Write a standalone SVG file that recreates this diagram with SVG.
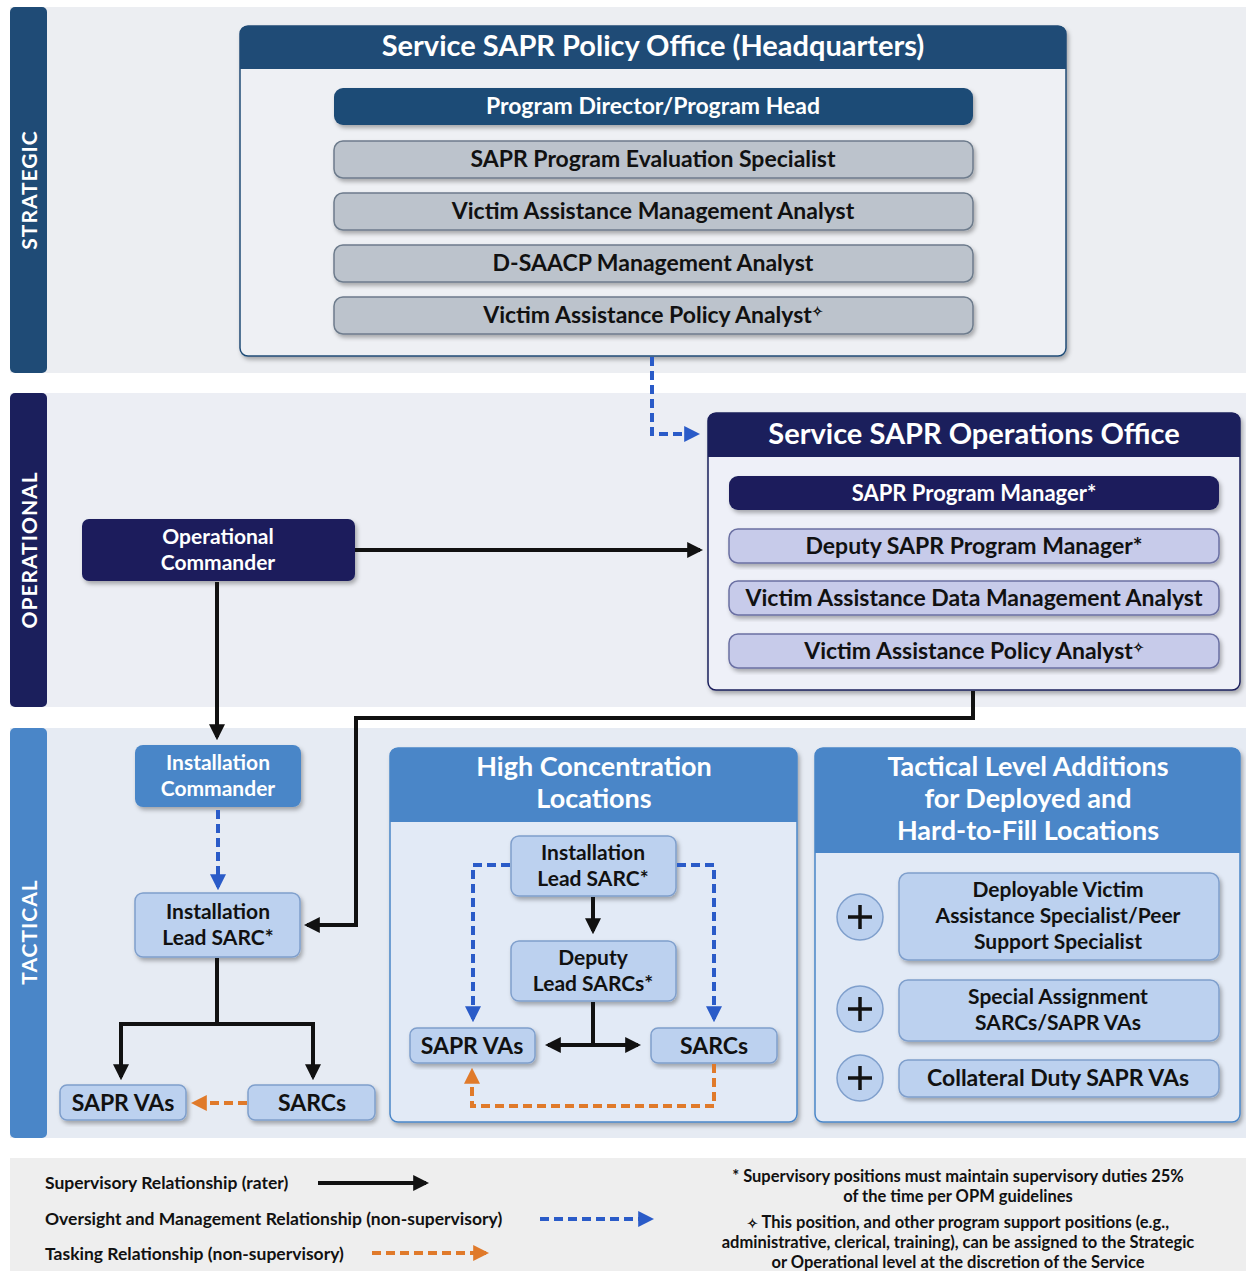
<svg xmlns="http://www.w3.org/2000/svg" width="1246" height="1271" viewBox="0 0 1246 1271">
<defs>
<style>
text{font-family:Lato,"Open Sans","Liberation Sans",sans-serif;font-weight:bold;text-anchor:middle}
.w{fill:#ffffff}
.d{fill:#111111}
.lab{fill:#ffffff;font-size:21px;letter-spacing:1px}
.grey{fill:#bcc3cc;stroke:#6d7b8c;stroke-width:1.5}
.lav{fill:#c7cbea;stroke:#6b70a3;stroke-width:1.5}
.lb{fill:#bcd1ef;stroke:#7f9fcc;stroke-width:1.5}
.sup{fill:none;stroke:#111;stroke-width:4}
.ovs{fill:none;stroke:#2a5bc8;stroke-width:4;stroke-dasharray:9 5}
.tsk{fill:none;stroke:#e07a2a;stroke-width:4;stroke-dasharray:9 5}
.leg{font-size:17.5px;text-anchor:start;fill:#111}
.note{font-size:16.5px;fill:#111}
.st{font-size:13px}
.h2{font-size:27px}
.n2{font-size:21px}
</style>
<filter id="sh" x="-5%" y="-10%" width="110%" height="130%"><feDropShadow dx="2" dy="3" stdDeviation="2" flood-color="#000" flood-opacity="0.3"/></filter>
<marker id="ak" viewBox="0 0 10 10" refX="8" refY="5" markerWidth="4" markerHeight="4" orient="auto-start-reverse"><path d="M0,0 L10,5 L0,10 z" fill="#111"/></marker>
<marker id="ab" viewBox="0 0 10 10" refX="8" refY="5" markerWidth="4" markerHeight="4" orient="auto"><path d="M0,0 L10,5 L0,10 z" fill="#2a5bc8"/></marker>
<marker id="ao" viewBox="0 0 10 10" refX="8" refY="5" markerWidth="4" markerHeight="4" orient="auto"><path d="M0,0 L10,5 L0,10 z" fill="#e07a2a"/></marker>
</defs>
<rect x="0" y="0" width="1246" height="1271" fill="#ffffff"/>
<!-- bands -->
<rect x="10" y="7" width="1236" height="366" fill="#eceef2"/>
<rect x="10" y="393" width="1236" height="314" fill="#eceef4"/>
<rect x="10" y="728" width="1236" height="410" fill="#e6ebf3"/>
<rect x="10" y="1158" width="1236" height="113" fill="#eeeeee"/>
<rect x="10" y="7" width="37" height="366" rx="5" fill="#1f4b76"/>
<rect x="10" y="393" width="37" height="314" rx="5" fill="#1b1f5c"/>
<rect x="10" y="728" width="37" height="410" rx="5" fill="#4a86c8"/>
<text class="lab" transform="translate(37,190) rotate(-90)">STRATEGIC</text>
<text class="lab" transform="translate(37,550) rotate(-90)">OPERATIONAL</text>
<text class="lab" transform="translate(37,932) rotate(-90)">TACTICAL</text>

<!-- policy office -->
<g id="policy-office">
<rect x="240" y="26" width="826" height="330" rx="8" fill="#eef0f4" stroke="#1f4b76" stroke-width="1.5" filter="url(#sh)"/>
<path d="M240,69 V34 Q240,26 248,26 H1058 Q1066,26 1066,34 V69 Z" fill="#1f4b76"/>
<text class="w" x="653" y="56" font-size="29">Service SAPR Policy Office (Headquarters)</text>
</g>
<g id="program-director"><rect x="334" y="88" width="639" height="37" rx="9" fill="#1f4b76" filter="url(#sh)"/><text class="w" x="653" y="114" font-size="23">Program Director/Program Head</text></g>
<g id="eval-specialist"><rect class="grey" x="334" y="141" width="639" height="37" rx="9" filter="url(#sh)"/><text class="d" x="653" y="167" font-size="23">SAPR Program Evaluation Specialist</text></g>
<g id="vam-analyst"><rect class="grey" x="334" y="193" width="639" height="37" rx="9" filter="url(#sh)"/><text class="d" x="653" y="219" font-size="23">Victim Assistance Management Analyst</text></g>
<g id="dsaacp-analyst"><rect class="grey" x="334" y="245" width="639" height="37" rx="9" filter="url(#sh)"/><text class="d" x="653" y="271" font-size="23">D-SAACP Management Analyst</text></g>
<g id="vap-analyst-s"><rect class="grey" x="334" y="297" width="639" height="37" rx="9" filter="url(#sh)"/><text class="d" x="653" y="323" font-size="23">Victim Assistance Policy Analyst<tspan class="st" dy="-7">✧</tspan></text></g>

<!-- operations office -->
<g id="operations-office">
<rect x="708" y="413" width="532" height="277" rx="8" fill="#eef0f8" stroke="#1b1f5c" stroke-width="1.5" filter="url(#sh)"/>
<path d="M708,457 V421 Q708,413 716,413 H1232 Q1240,413 1240,421 V457 Z" fill="#1b1f5c"/>
<text class="w" x="974" y="444" font-size="29">Service SAPR Operations Office</text>
</g>
<g id="program-manager"><rect x="729" y="476" width="490" height="34" rx="9" fill="#1b1f5c" filter="url(#sh)"/><text class="w" x="974" y="501" font-size="22">SAPR Program Manager*</text></g>
<g id="deputy-pm"><rect class="lav" x="729" y="529" width="490" height="34" rx="9" filter="url(#sh)"/><text class="d" x="974" y="554" font-size="23">Deputy SAPR Program Manager*</text></g>
<g id="vadm-analyst"><rect class="lav" x="729" y="581" width="490" height="34" rx="9" filter="url(#sh)"/><text class="d" x="974" y="606" font-size="23">Victim Assistance Data Management Analyst</text></g>
<g id="vap-analyst-o"><rect class="lav" x="729" y="634" width="490" height="34" rx="9" filter="url(#sh)"/><text class="d" x="974" y="659" font-size="23">Victim Assistance Policy Analyst<tspan class="st" dy="-7">✧</tspan></text></g>

<!-- operational commander -->
<g id="operational-commander"><rect x="82" y="519" width="273" height="62" rx="7" fill="#1b1f5c" filter="url(#sh)"/><text class="w n2" x="218" y="544">Operational</text><text class="w n2" x="218" y="570">Commander</text></g>

<!-- tactical left -->
<g id="installation-commander"><rect x="135" y="745" width="166" height="62" rx="8" fill="#4a86c8" filter="url(#sh)"/><text class="w n2" x="218" y="770">Installation</text><text class="w n2" x="218" y="796">Commander</text></g>
<g id="installation-lead-sarc"><rect class="lb" x="135" y="893" width="165" height="64" rx="8" filter="url(#sh)"/><text class="d n2" x="218" y="919">Installation</text><text class="d n2" x="218" y="945">Lead SARC*</text></g>
<g id="sapr-vas"><rect class="lb" x="60" y="1085" width="126" height="35" rx="7" filter="url(#sh)"/><text class="d" x="123" y="1111" font-size="23">SAPR VAs</text></g>
<g id="sarcs"><rect class="lb" x="248" y="1085" width="127" height="35" rx="7" filter="url(#sh)"/><text class="d" x="312" y="1111" font-size="23">SARCs</text></g>

<!-- high concentration -->
<g id="high-concentration">
<rect x="390" y="748" width="407" height="374" rx="8" fill="#e2eaf6" stroke="#4a86c8" stroke-width="1.5" filter="url(#sh)"/>
<path d="M390,822 V756 Q390,748 398,748 H789 Q797,748 797,756 V822 Z" fill="#4a86c8"/>
<text class="w h2" x="594" y="776">High Concentration</text>
<text class="w h2" x="594" y="808">Locations</text>
</g>
<g id="hc-lead-sarc"><rect class="lb" x="511" y="836" width="165" height="60" rx="8" filter="url(#sh)"/><text class="d n2" x="593" y="860">Installation</text><text class="d n2" x="593" y="886">Lead SARC*</text></g>
<g id="hc-deputy"><rect class="lb" x="511" y="941" width="165" height="60" rx="8" filter="url(#sh)"/><text class="d n2" x="593" y="965">Deputy</text><text class="d n2" x="593" y="991">Lead SARCs*</text></g>
<g id="hc-sapr-vas"><rect class="lb" x="410" y="1028" width="125" height="35" rx="7" filter="url(#sh)"/><text class="d" x="472" y="1054" font-size="23">SAPR VAs</text></g>
<g id="hc-sarcs"><rect class="lb" x="651" y="1028" width="126" height="35" rx="7" filter="url(#sh)"/><text class="d" x="714" y="1054" font-size="23">SARCs</text></g>

<!-- tactical additions -->
<g id="tactical-additions">
<rect x="815" y="748" width="425" height="374" rx="8" fill="#e2eaf6" stroke="#4a86c8" stroke-width="1.5" filter="url(#sh)"/>
<path d="M815,853 V756 Q815,748 823,748 H1232 Q1240,748 1240,756 V853 Z" fill="#4a86c8"/>
<text class="w h2" x="1028" y="776">Tactical Level Additions</text>
<text class="w h2" x="1028" y="808">for Deployed and</text>
<text class="w h2" x="1028" y="840">Hard-to-Fill Locations</text>
</g>
<g id="deployable-va"><circle class="lb" cx="860" cy="917" r="23"/><path d="M848,917 H872 M860,905 V929" stroke="#111" stroke-width="3.5"/><rect class="lb" x="899" y="873" width="320" height="87" rx="9" filter="url(#sh)"/><text class="d n2" x="1058" y="897">Deployable Victim</text><text class="d n2" x="1058" y="923">Assistance Specialist/Peer</text><text class="d n2" x="1058" y="949">Support Specialist</text></g>
<g id="special-assignment"><circle class="lb" cx="860" cy="1009" r="23"/><path d="M848,1009 H872 M860,997 V1021" stroke="#111" stroke-width="3.5"/><rect class="lb" x="899" y="980" width="320" height="61" rx="9" filter="url(#sh)"/><text class="d n2" x="1058" y="1004">Special Assignment</text><text class="d n2" x="1058" y="1030">SARCs/SAPR VAs</text></g>
<g id="collateral-duty"><circle class="lb" cx="860" cy="1078" r="23"/><path d="M848,1078 H872 M860,1066 V1090" stroke="#111" stroke-width="3.5"/><rect class="lb" x="899" y="1060" width="320" height="37" rx="9" filter="url(#sh)"/><text class="d" x="1058" y="1086" font-size="23">Collateral Duty SAPR VAs</text></g>

<!-- connectors -->
<g id="connectors">
<path class="ovs" d="M652,357 V434 H697" marker-end="url(#ab)"/>
<path class="sup" d="M355,550 H700" marker-end="url(#ak)"/>
<path class="sup" d="M217,582 V737" marker-end="url(#ak)"/>
<path class="sup" d="M973,691 V718 H356 V925 H307" marker-end="url(#ak)"/>
<path class="ovs" d="M218,810 V887" marker-end="url(#ab)"/>
<path class="sup" d="M217,958 V1024 H121 V1077" marker-end="url(#ak)"/>
<path class="sup" d="M217,1024 H313 V1077" marker-end="url(#ak)"/>
<path class="tsk" d="M247,1103 H194" marker-end="url(#ao)"/>
<path class="sup" d="M593,897 V931" marker-end="url(#ak)"/>
<path class="sup" d="M593,1002 V1045"/>
<path class="sup" d="M548,1045 H638" marker-start="url(#ak)" marker-end="url(#ak)"/>
<path class="ovs" d="M510,865 H473 V1019" marker-end="url(#ab)"/>
<path class="ovs" d="M677,865 H714 V1019" marker-end="url(#ab)"/>
<path class="tsk" d="M714,1064 V1106 H472 V1071" marker-end="url(#ao)"/>
</g>

<!-- legend -->
<g id="legend">
<text class="leg" x="45" y="1189">Supervisory Relationship (rater)</text>
<path d="M318,1183 H426" stroke="#111" stroke-width="4" marker-end="url(#ak)"/>
<text class="leg" x="45" y="1225">Oversight and Management Relationship (non-supervisory)</text>
<path d="M540,1219 H651" class="ovs" stroke-width="3.5" stroke-dasharray="7 5" marker-end="url(#ab)"/>
<text class="leg" x="45" y="1260">Tasking Relationship (non-supervisory)</text>
<path d="M372,1253 H486" class="tsk" stroke-width="3.5" stroke-dasharray="7 5" marker-end="url(#ao)"/>
</g>
<g id="notes">
<text class="note" x="958" y="1182">* Supervisory positions must maintain supervisory duties 25%</text>
<text class="note" x="958" y="1202">of the time per OPM guidelines</text>
<text class="note" x="958" y="1228"><tspan class="st">✧</tspan> This position, and other program support positions (e.g.,</text>
<text class="note" x="958" y="1248">administrative, clerical, training), can be assigned to the Strategic</text>
<text class="note" x="958" y="1268">or Operational level at the discretion of the Service</text>
</g>
</svg>
